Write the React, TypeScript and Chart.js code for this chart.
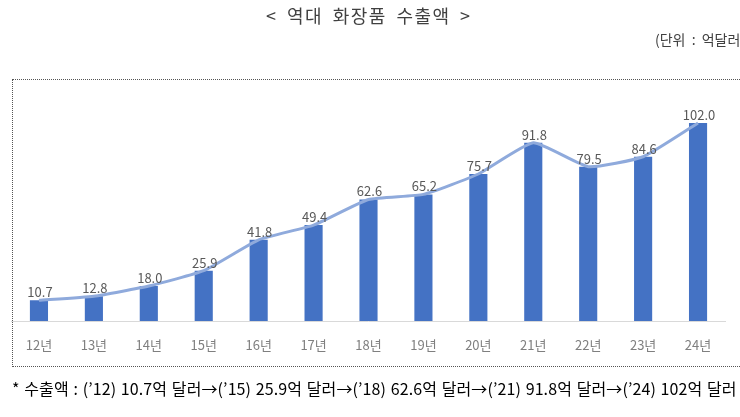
import React, { useEffect, useRef } from "react";
import { Chart, registerables } from "chart.js";

Chart.register(...registerables);

const categories = ["12년", "13년", "14년", "15년", "16년", "17년", "18년", "19년", "20년", "21년", "22년", "23년", "24년"];
const exports = [10.7, 12.8, 18.0, 25.9, 41.8, 49.4, 62.6, 65.2, 75.7, 91.8, 79.5, 84.6, 102.0];
const titleText = "< 역대 화장품 수출액 >";
const unitText = "(단위 : 억달러)";
const noteText = "* 수출액 : (’12) 10.7억 달러→(’15) 25.9억 달러→(’18) 62.6억 달러→(’21) 91.8억 달러→(’24) 102억 달러";

const FONT = "'Noto Sans CJK KR', 'Noto Sans', sans-serif";

const labelPlugin = {
  id: "barLabels",
  afterDatasetsDraw(chart: any) {
    const ctx = chart.ctx;
    const meta = chart.getDatasetMeta(0);
    ctx.save();
    ctx.font = `13px ${FONT}`;
    ctx.fillStyle = "#595959";
    ctx.textAlign = "center";
    ctx.textBaseline = "middle";
    meta.data.forEach((el: any, i: number) => {
      ctx.fillText(exports[i].toFixed(1), el.x + 1, el.y - 8);
    });
    ctx.restore();
  },
};

export default function App() {
  const ref = useRef<HTMLCanvasElement>(null);
  useEffect(() => {
    const chart = new Chart(ref.current!, {
      type: "bar",
      data: {
        labels: categories,
        datasets: [
          {
            type: "line",
            data: exports,
            borderColor: "#8faadc",
            borderWidth: 3,
            pointRadius: 0,
            tension: 0.15,
            order: 0,
          } as any,
          {
            type: "bar",
            data: exports,
            backgroundColor: "#4472c4",
            barPercentage: 0.33,
            categoryPercentage: 1,
            order: 1,
          },
        ],
      },
      options: {
        animation: false,
        responsive: false,
        events: [],
        layout: { padding: { left: 11.5, right: 14.5, top: 88, bottom: 0 } },
        plugins: { legend: { display: false }, tooltip: { enabled: false }, title: { display: false } },
        scales: {
          x: {
            grid: { display: false, drawTicks: false },
            border: { display: true, color: "#d9d9d9", width: 1 },
            ticks: { color: "#7f7f7f", font: { family: FONT, size: 13 }, padding: 16, maxRotation: 0 },
            afterFit: (scale: any) => {
              scale.height = 96;
            },
          },
          y: { display: false, min: 0, max: 120 },
        },
      },
      plugins: [labelPlugin],
    });
    return () => chart.destroy();
  }, []);

  return (
    <div style={{ position: "absolute", left: 0, top: 0, width: 740, height: 417, overflow: "hidden", background: "#fff", fontFamily: FONT }}>
      <div style={{ position: "absolute", left: 12, top: 79, width: 760, height: 288, border: "1px dotted #555", boxSizing: "border-box" }} />
      <canvas ref={ref} width={740} height={417} style={{ position: "absolute", left: 0, top: 0 }} />
      <div style={{ position: "absolute", left: 266, top: 2, fontSize: 18, color: "#404040", whiteSpace: "nowrap", letterSpacing: 1.5, wordSpacing: 4 }}>{titleText}</div>
      <div style={{ position: "absolute", left: 655, top: 29, fontSize: 14, color: "#404040", whiteSpace: "nowrap", wordSpacing: 3 }}>{unitText}</div>
      <div style={{ position: "absolute", left: 12, top: 376, fontSize: 16, color: "#000", whiteSpace: "nowrap", letterSpacing: 0.1, wordSpacing: 1 }}>{noteText}</div>
    </div>
  );
}
